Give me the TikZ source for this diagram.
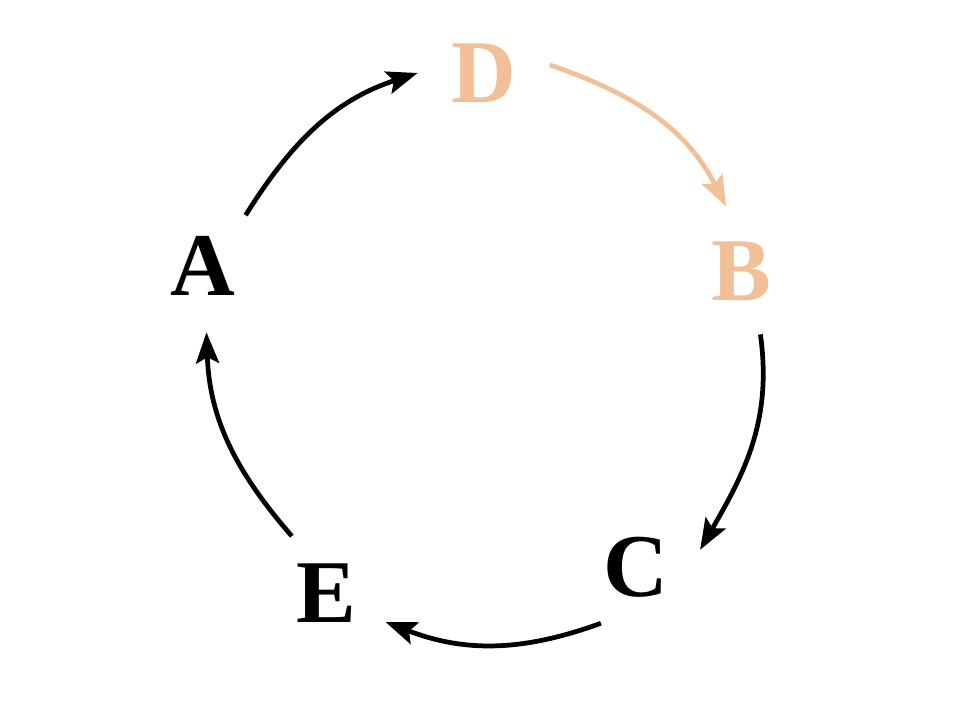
\documentclass[tikz,border=0pt]{standalone}
\usepackage{fontspec}
\setmainfont{Liberation Serif}
\usepackage{xcolor}
\usetikzlibrary{arrows.meta}
\definecolor{peach}{HTML}{F2C098}
\tikzset{
  letter/.style={circle, minimum size=2.64cm, inner sep=0pt,
    font=\fontsize{51}{58}\selectfont\bfseries},
  flow/.style={line width=2.7pt, -{Stealth[length=0.62cm, width=0.46cm, inset=0.12cm]}}
}
\begin{document}
\begin{tikzpicture}[x=0.02cm, y=-0.02cm]
		\useasboundingbox (0,0) rectangle (960,720);
		% Letters
		\node[letter, text=peach] (D) at (484,73) {D};
		\node[letter, text=peach] (B) at (741,271) {B};
		\node[letter] (C) at (636,567) {C};
		\node[letter] (E) at (326,593) {E};
		\node[letter] (A) at (203,266) {A};
		% Cycle
		\draw[flow] (A.50) to[out=58, in=198] (D.180);
		\draw[flow, peach] (D.7) to[out=-19, in=117] (B.103);
		\draw[flow] (B.-73) to[out=-82, in=60] (C.15);
		\draw[flow] (C.-122) to[out=200, in=-21] (E.-26);
		\draw[flow] (E.121) to[out=131, in=-88] (A.-87);
	\end{tikzpicture}
\end{document}
